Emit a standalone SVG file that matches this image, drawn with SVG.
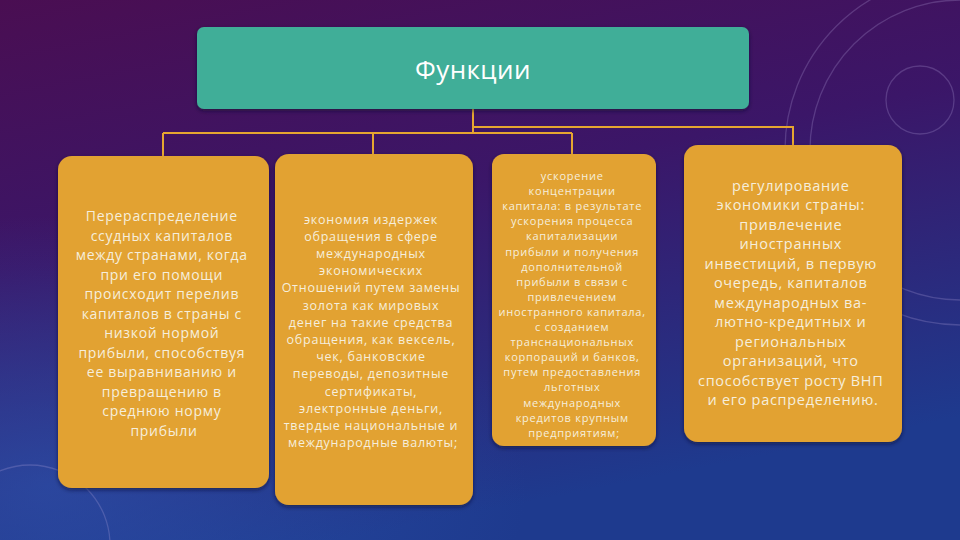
<svg xmlns="http://www.w3.org/2000/svg" width="960" height="540" viewBox="0 0 960 540">
<defs>
<linearGradient id="bg" x1="0" y1="0" x2="0.35" y2="1">
<stop offset="0" stop-color="#4a0e52"/>
<stop offset="0.45" stop-color="#3b1668"/>
<stop offset="1" stop-color="#1e3a8e"/>
</linearGradient>
<radialGradient id="glow" cx="0.05" cy="0.9" r="0.5">
<stop offset="0" stop-color="#2d56b0" stop-opacity="0.6"/>
<stop offset="1" stop-color="#2d56b0" stop-opacity="0"/>
</radialGradient>
<filter id="sh" x="-10%" y="-10%" width="120%" height="120%">
<feDropShadow dx="0" dy="2" stdDeviation="2" flood-color="#10082a" flood-opacity="0.6"/>
</filter>
</defs>
<style>
.card{fill:#e2a232;filter:url(#sh)}
.head{fill:#40ae98;filter:url(#sh)}
.conn{fill:none;stroke:#e6a630;stroke-width:2}
.deco{fill:none;stroke:#b7a6e0;stroke-opacity:0.25;stroke-width:1.3}
.t{font-family:"Open Sans","DejaVu Sans",sans-serif;fill:#f6eedc;text-anchor:middle}
.t1{font-size:14px;letter-spacing:0.7px}
.t2{font-size:12.5px;letter-spacing:0.75px}
.t3{font-size:11px;letter-spacing:0.75px}
.title{font-family:"Open Sans","DejaVu Sans",sans-serif;font-size:26px;letter-spacing:0.4px;fill:#ffffff;text-anchor:middle}
</style>
<rect width="960" height="540" fill="url(#bg)"/>
<rect width="960" height="540" fill="url(#glow)"/>
<g id="decor">
<circle class="deco" cx="30" cy="545" r="80"/>
<circle class="deco" cx="960" cy="150" r="175"/>
<circle class="deco" cx="960" cy="150" r="150" stroke-opacity="0.15"/>
<circle class="deco" cx="920" cy="100" r="34"/>
</g>
<g id="connectors">
<path class="conn" d="M473,109 V133 M163,133 H572 M163,133 V156 M373,133 V154 M572,133 V154 M473,127 H793 V145"/>
</g>
<g id="n0">
<rect class="head" x="197" y="27" width="552" height="82" rx="7"/>
<text class="title" x="473" y="79">Функции</text>
</g>
<g id="n1">
<rect class="card" x="58" y="156" width="211" height="332" rx="14"/>
<text class="t t1" x="164" y="221">
<tspan x="164">Перераспределение</tspan>
<tspan x="164" dy="19.5">ссудных капиталов</tspan>
<tspan x="164" dy="19.5">между странами, когда</tspan>
<tspan x="164" dy="19.5">при его помощи</tspan>
<tspan x="164" dy="19.5">происходит перелив</tspan>
<tspan x="164" dy="19.5">капиталов в страны с</tspan>
<tspan x="164" dy="19.5">низкой нормой</tspan>
<tspan x="164" dy="19.5">прибыли, способствуя</tspan>
<tspan x="164" dy="19.5">ее выравниванию и</tspan>
<tspan x="164" dy="19.5">превращению в</tspan>
<tspan x="164" dy="19.5">среднюю норму</tspan>
<tspan x="164" dy="19.5">прибыли</tspan>
</text>
</g>
<g id="n2">
<rect class="card" x="275" y="154" width="198" height="351" rx="14"/>
<text class="t t2" x="373" y="223.5">
<tspan x="373">экономия издержек</tspan>
<tspan x="373" dy="17.2">обращения в сфере</tspan>
<tspan x="373" dy="17.2">международных</tspan>
<tspan x="373" dy="17.2">экономических</tspan>
<tspan x="373" dy="17.2">Отношений путем замены</tspan>
<tspan x="373" dy="17.2">золота как мировых</tspan>
<tspan x="373" dy="17.2">денег на такие средства</tspan>
<tspan x="373" dy="17.2">обращения, как вексель,</tspan>
<tspan x="373" dy="17.2">чек, банковские</tspan>
<tspan x="373" dy="17.2">переводы, депозитные</tspan>
<tspan x="373" dy="17.2">сертификаты,</tspan>
<tspan x="373" dy="17.2">электронные деньги,</tspan>
<tspan x="373" dy="17.2">твердые национальные и</tspan>
<tspan x="373" dy="17.2">международные валюты;</tspan>
</text>
</g>
<g id="n3">
<rect class="card" x="492" y="154" width="164" height="292" rx="12"/>
<text class="t t3" x="574" y="180">
<tspan x="574">ускорение</tspan>
<tspan x="574" dy="15.1">концентрации</tspan>
<tspan x="574" dy="15.1">капитала: в результате</tspan>
<tspan x="574" dy="15.1">ускорения процесса</tspan>
<tspan x="574" dy="15.1">капитализации</tspan>
<tspan x="574" dy="15.1">прибыли и получения</tspan>
<tspan x="574" dy="15.1">дополнительной</tspan>
<tspan x="574" dy="15.1">прибыли в связи с</tspan>
<tspan x="574" dy="15.1">привлечением</tspan>
<tspan x="574" dy="15.1">иностранного капитала,</tspan>
<tspan x="574" dy="15.1">с созданием</tspan>
<tspan x="574" dy="15.1">транснациональных</tspan>
<tspan x="574" dy="15.1">корпораций и банков,</tspan>
<tspan x="574" dy="15.1">путем предоставления</tspan>
<tspan x="574" dy="15.1">льготных</tspan>
<tspan x="574" dy="15.1">международных</tspan>
<tspan x="574" dy="15.1">кредитов крупным</tspan>
<tspan x="574" dy="15.1">предприятиям;</tspan>
</text>
</g>
<g id="n4">
<rect class="card" x="684" y="145" width="218" height="297" rx="14"/>
<text class="t t1" x="793" y="191" style="font-size:14.5px">
<tspan x="793">регулирование</tspan>
<tspan x="793" dy="19.45">экономики страны:</tspan>
<tspan x="793" dy="19.45">привлечение</tspan>
<tspan x="793" dy="19.45">иностранных</tspan>
<tspan x="793" dy="19.45">инвестиций, в первую</tspan>
<tspan x="793" dy="19.45">очередь, капиталов</tspan>
<tspan x="793" dy="19.45">международных ва-</tspan>
<tspan x="793" dy="19.45">лютно-кредитных и</tspan>
<tspan x="793" dy="19.45">региональных</tspan>
<tspan x="793" dy="19.45">организаций, что</tspan>
<tspan x="793" dy="19.45">способствует росту ВНП</tspan>
<tspan x="793" dy="19.45">и его распределению.</tspan>
</text>
</g>
</svg>
